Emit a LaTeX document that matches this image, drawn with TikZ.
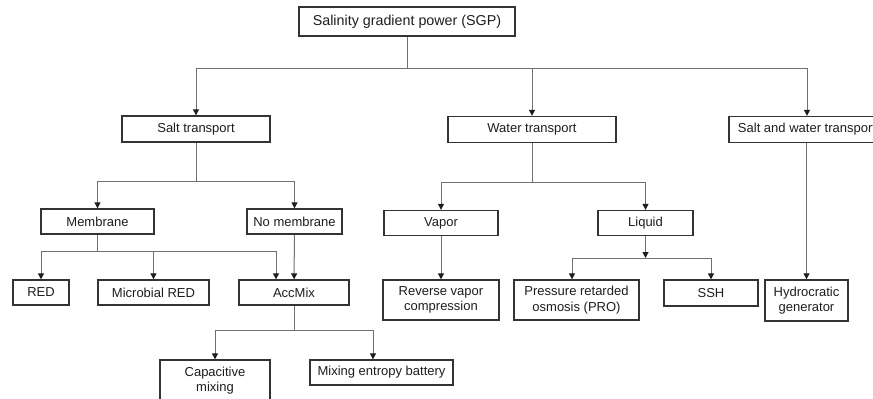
\documentclass[tikz,border=0pt]{standalone}
\usepackage{fontspec}
\setmainfont{Liberation Sans}
\usetikzlibrary{arrows.meta}
\definecolor{boxline}{HTML}{333333}
\definecolor{linkline}{HTML}{707070}
\definecolor{inkc}{HTML}{1E1E1E}
\begin{document}
\begin{tikzpicture}[x=1pt,y=-1pt,
  box/.style={draw=boxline,line width=1.3pt,rectangle,inner sep=0pt,
    text=inkc,align=center,font=\fontsize{13}{15.5}\selectfont},
  link/.style={draw=linkline,line width=1pt},
  arr/.style={link,-{Triangle[length=6pt,width=6pt,color=inkc]}}]
\useasboundingbox[fill=white] (0,0) rectangle (873,399);
\clip (0,0) rectangle (873,399);

% top level
\node[box,minimum width=216pt,minimum height=29pt,font=\fontsize{14.3}{16}\selectfont] (sgp) at (407,21.5) {Salinity gradient power (SGP)};

% second level
\node[box,minimum width=148pt,minimum height=26pt] (salt) at (196,129) {Salt transport};
\node[box,minimum width=168pt,minimum height=26pt] (water) at (532,129.5) {Water transport};
\node[box,minimum width=156pt,minimum height=26pt] (sw) at (807,129.5) {Salt and water transport};

% third level
\node[box,minimum width=113pt,minimum height=25pt] (memb) at (97.5,221.5) {Membrane};
\node[box,minimum width=95pt,minimum height=25pt] (nomemb) at (294.5,221.5) {No membrane};
\node[box,minimum width=114pt,minimum height=25pt] (vapor) at (441,223) {Vapor};
\node[box,minimum width=95pt,minimum height=25pt] (liquid) at (645.5,223) {Liquid};

% fourth level
\node[box,minimum width=56pt,minimum height=25pt] (red) at (41,292.5) {RED};
\node[box,minimum width=111pt,minimum height=25pt] (mred) at (153.5,292.5) {Microbial RED};
\node[box,minimum width=110pt,minimum height=25pt] (accmix) at (294,292.5) {AccMix};
\node[box,minimum width=116pt,minimum height=40pt] (rvc) at (441,300) {Reverse vapor\\compression};
\node[box,minimum width=125pt,minimum height=40pt] (pro) at (576.5,300) {Pressure retarded\\osmosis (PRO)};
\node[box,minimum width=94pt,minimum height=26pt] (ssh) at (711,293) {SSH};
\node[box,minimum width=83pt,minimum height=41pt] (hydro) at (806.5,300.5) {Hydrocratic\\generator};

% fifth level
\node[box,minimum width=110pt,minimum height=41pt] (cap) at (215,380.5) {Capacitive\\mixing};
\node[box,minimum width=143pt,minimum height=25pt] (meb) at (381.5,372.5) {Mixing entropy battery};

% junction points
\coordinate (j0) at (407,68);
\coordinate (j1) at (196,181);
\coordinate (j2) at (97,251);
\coordinate (j3) at (532,182);
\coordinate (j4) at (645.5,258);
\coordinate (j5) at (294,330);

% SGP branches
\draw[link] (sgp) -- (j0);
\draw[arr] (j0) -| (salt);
\draw[arr] (j0) -| (water);
\draw[arr] (j0) -| (sw);

% salt transport branches
\draw[link] (salt) -- (j1);
\draw[arr] (j1) -| (memb);
\draw[arr] (j1) -| (nomemb);

% membrane branches
\draw[link] (memb.south -| j2) -- (j2);
\draw[arr] (j2) -| (red);
\draw[arr] (j2) -| (mred);
\draw[arr] (j2) -| ([xshift=-18pt]accmix.north);
\draw[arr] (nomemb) -- (accmix);

% water transport branches
\draw[link] (water) -- (j3);
\draw[arr] (j3) -| (vapor);
\draw[arr] (j3) -| (liquid);
\draw[arr] (vapor) -- (rvc);
\draw[arr] (liquid) -- (j4);
\draw[arr] (j4) -| ([xshift=-4.5pt]pro.north);
\draw[arr] (j4) -| (ssh);

% salt and water transport
\draw[arr] (sw.south -| hydro.north) -- (hydro);

% AccMix branches
\draw[link] (accmix) -- (j5);
\draw[arr] (j5) -| (cap);
\draw[arr] (j5) -| ([xshift=-8.5pt]meb.north);
\end{tikzpicture}
\end{document}
